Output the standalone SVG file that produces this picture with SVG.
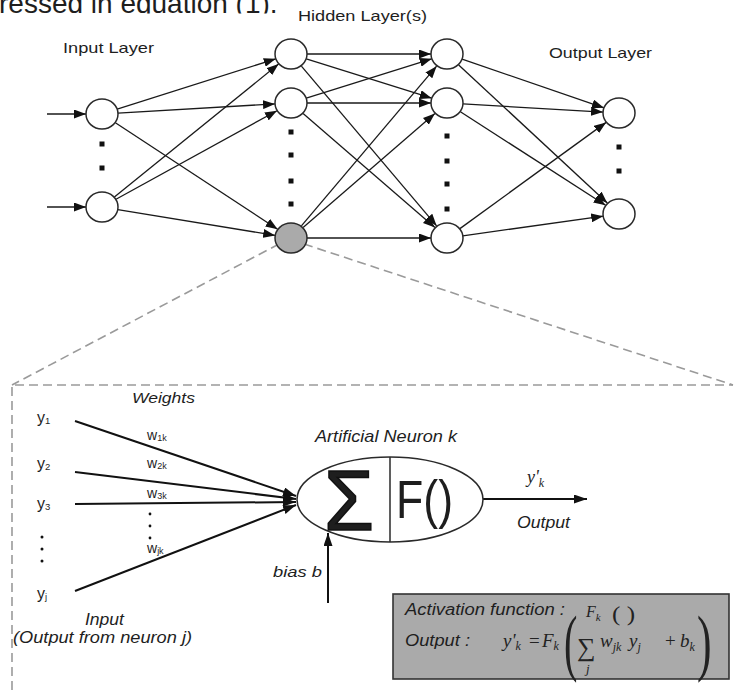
<svg xmlns="http://www.w3.org/2000/svg" width="734" height="690" viewBox="0 0 734 690">
<defs>
<style>
.node{fill:#fff;stroke:#2a2a2a;stroke-width:1.5}
.hl{fill:#aaaaaa}
.edge{stroke:#1a1a1a;stroke-width:1.3;fill:none;marker-end:url(#ah)}
.thick{stroke:#111;stroke-width:2;fill:none;marker-end:url(#ah2)}
.dash{stroke:#9a9a9a;stroke-width:1.6;fill:none;stroke-dasharray:9 5}
.dot{fill:#111}
.t{font-family:"Liberation Sans",Arial,sans-serif;fill:#1e1e1e}
.i{font-style:italic}
.m{font-family:"Liberation Serif","Times New Roman",serif;font-style:italic;fill:#222}
.r{font-family:"Liberation Serif","Times New Roman",serif;fill:#222}
</style>
<marker id="ah" viewBox="0 0 12 9" refX="12" refY="4.5" markerWidth="12" markerHeight="9" markerUnits="userSpaceOnUse" orient="auto"><path d="M0,0 L12,4.5 L0,9 z" fill="#111"/></marker>
<marker id="ah2" viewBox="0 0 13 9" refX="13" refY="4.5" markerWidth="13" markerHeight="9" markerUnits="userSpaceOnUse" orient="auto"><path d="M0,0 L13,4.5 L0,9 z" fill="#111"/></marker>
<clipPath id="topclip"><rect x="0" y="0" width="734" height="13.5"/></clipPath>
</defs>
<rect width="734" height="690" fill="#fff"/>

<text class="t" x="-1" y="13" font-size="28" clip-path="url(#topclip)" fill="#111">ressed in equation (1).</text>

<g id="labels">
<text class="t" x="63" y="53" font-size="14.5" textLength="91" lengthAdjust="spacingAndGlyphs">Input Layer</text>
<text class="t" x="298" y="20.5" font-size="14.5" textLength="129" lengthAdjust="spacingAndGlyphs">Hidden Layer(s)</text>
<text class="t" x="549" y="58" font-size="15" textLength="103" lengthAdjust="spacingAndGlyphs">Output Layer</text>
</g>

<g id="connectors">
<line class="edge" x1="47" y1="114" x2="86" y2="114"/>
<line class="edge" x1="47" y1="207" x2="86" y2="207"/>
<line class="edge" x1="117.2" y1="109.2" x2="275.8" y2="58.8"/>
<line class="edge" x1="118" y1="113.1" x2="275" y2="103.9"/>
<line class="edge" x1="115.4" y1="122.8" x2="277.6" y2="229.2"/>
<line class="edge" x1="114.4" y1="196.9" x2="278.6" y2="64.1"/>
<line class="edge" x1="116" y1="199.3" x2="277" y2="110.7"/>
<line class="edge" x1="117.8" y1="209.6" x2="275.2" y2="235.4"/>
<line class="edge" x1="307" y1="54" x2="431" y2="54"/>
<line class="edge" x1="306.3" y1="58.8" x2="431.7" y2="98.2"/>
<line class="edge" x1="301.4" y1="66.2" x2="436.6" y2="225.8"/>
<line class="edge" x1="306.3" y1="98.2" x2="431.7" y2="58.8"/>
<line class="edge" x1="307" y1="103" x2="431" y2="103"/>
<line class="edge" x1="303.1" y1="113.5" x2="434.9" y2="227.5"/>
<line class="edge" x1="301.4" y1="225.8" x2="436.6" y2="66.2"/>
<line class="edge" x1="303.1" y1="227.5" x2="434.9" y2="113.5"/>
<line class="edge" x1="307" y1="238" x2="431" y2="238"/>
<line class="edge" x1="462.1" y1="59.2" x2="603.9" y2="107.8"/>
<line class="edge" x1="458.7" y1="64.9" x2="607.3" y2="203.1"/>
<line class="edge" x1="463" y1="103.9" x2="603" y2="112.1"/>
<line class="edge" x1="460.4" y1="111.7" x2="605.6" y2="205.3"/>
<line class="edge" x1="459.9" y1="228.6" x2="606.1" y2="122.4"/>
<line class="edge" x1="462.8" y1="235.8" x2="603.2" y2="216.2"/>
<line class="dash" x1="279" y1="244" x2="12" y2="385"/>
<line class="dash" x1="304" y1="244" x2="733" y2="385"/>
<path class="dash" d="M12,690 V385 H733"/>
<line class="thick" x1="75" y1="421" x2="296" y2="496"/>
<line class="thick" x1="75" y1="472" x2="296" y2="499"/>
<line class="thick" x1="75" y1="504" x2="296" y2="502"/>
<line class="thick" x1="75" y1="591" x2="296" y2="505"/>
<line class="thick" x1="483" y1="499" x2="587" y2="499"/>
<line class="thick" x1="328" y1="603" x2="328" y2="533"/>
</g>

<g id="in1"><ellipse class="node" cx="102" cy="114" rx="16" ry="15"/></g>
<g id="in2"><ellipse class="node" cx="102" cy="207" rx="16" ry="15"/></g>
<g id="h1"><ellipse class="node" cx="291" cy="54" rx="16" ry="15"/></g>
<g id="h2"><ellipse class="node" cx="291" cy="103" rx="16" ry="15"/></g>
<g id="h3"><ellipse class="node hl" cx="291" cy="238" rx="16" ry="15"/></g>
<g id="l1"><ellipse class="node" cx="447" cy="54" rx="16" ry="15"/></g>
<g id="l2"><ellipse class="node" cx="447" cy="103" rx="16" ry="15"/></g>
<g id="l3"><ellipse class="node" cx="447" cy="238" rx="16" ry="15"/></g>
<g id="o1"><ellipse class="node" cx="619" cy="113" rx="16" ry="15"/></g>
<g id="o2"><ellipse class="node" cx="619" cy="214" rx="16" ry="15"/></g>

<g id="dots">
<rect class="dot" x="99.5" y="141.5" width="5" height="5"/>
<rect class="dot" x="99.5" y="165.5" width="5" height="5"/>
<rect class="dot" x="288.5" y="129.5" width="5" height="5"/>
<rect class="dot" x="288.5" y="152.5" width="5" height="5"/>
<rect class="dot" x="288.5" y="178.5" width="5" height="5"/>
<rect class="dot" x="288.5" y="201.5" width="5" height="5"/>
<rect class="dot" x="444.5" y="133.5" width="5" height="5"/>
<rect class="dot" x="444.5" y="158.5" width="5" height="5"/>
<rect class="dot" x="444.5" y="181.5" width="5" height="5"/>
<rect class="dot" x="444.5" y="206.5" width="5" height="5"/>
<rect class="dot" x="616.5" y="144.5" width="5" height="5"/>
<rect class="dot" x="616.5" y="168.5" width="5" height="5"/>
</g>

<g id="inputs">
<text class="t i" x="132" y="403" font-size="15.5" textLength="63" lengthAdjust="spacingAndGlyphs">Weights</text>
<text class="t" x="37" y="423" font-size="16">y<tspan font-size="9.5" dy="1">1</tspan></text>
<text class="t" x="37" y="469" font-size="16">y<tspan font-size="9.5" dy="1">2</tspan></text>
<text class="t" x="37" y="509" font-size="16">y<tspan font-size="9.5" dy="1">3</tspan></text>
<circle class="dot" cx="42" cy="537" r="1.5"/>
<circle class="dot" cx="42" cy="549" r="1.5"/>
<circle class="dot" cx="42" cy="561" r="1.5"/>
<text class="t" x="37" y="599" font-size="16">y<tspan font-size="9.5" dy="1">j</tspan></text>
<text class="t" x="147" y="440" font-size="14">w<tspan font-size="9" dy="1">1k</tspan></text>
<text class="t" x="147" y="468" font-size="14">w<tspan font-size="9" dy="1">2k</tspan></text>
<text class="t" x="147" y="498" font-size="14">w<tspan font-size="9" dy="1">3k</tspan></text>
<circle class="dot" cx="150" cy="514" r="1.4"/>
<circle class="dot" cx="150" cy="526" r="1.4"/>
<circle class="dot" cx="150" cy="538" r="1.4"/>
<text class="t" x="147" y="553" font-size="14">w<tspan font-size="9" dy="1">jk</tspan></text>
<text class="t i" x="85" y="625" font-size="16" textLength="39" lengthAdjust="spacingAndGlyphs">Input</text>
<text class="t i" x="13" y="643" font-size="16" textLength="179" lengthAdjust="spacingAndGlyphs">(Output from neuron j)</text>
</g>

<g id="neuron">
<text class="t i" x="315" y="442" font-size="16.5" textLength="142" lengthAdjust="spacingAndGlyphs">Artificial Neuron k</text>
<ellipse cx="390" cy="499.5" rx="93" ry="42.5" fill="#fff" stroke="#2a2a2a" stroke-width="1.5"/>
<line x1="390" y1="457" x2="390" y2="542" stroke="#2a2a2a" stroke-width="1.5"/>
<text class="t" x="324" y="530" font-size="86" textLength="50" lengthAdjust="spacingAndGlyphs" fill="#111" stroke="#111" stroke-width="1.6">Σ</text>
<text class="t" x="396" y="518" font-size="53" textLength="57" lengthAdjust="spacingAndGlyphs" fill="#111">F()</text>
<text class="m" x="527" y="483" font-size="18">y'<tspan font-size="12" dy="4">k</tspan></text>
<text class="t i" x="517" y="528" font-size="16" textLength="53" lengthAdjust="spacingAndGlyphs">Output</text>
<text class="t i" x="273" y="577" font-size="15.5" textLength="49" lengthAdjust="spacingAndGlyphs">bias b</text>
</g>

<g id="formula">
<rect x="393" y="594" width="336" height="85" fill="#aaaaaa" stroke="#333" stroke-width="1.6"/>
<text class="t i" x="405" y="615" font-size="16" textLength="160" lengthAdjust="spacingAndGlyphs">Activation function :</text>
<text class="m" x="586" y="617" font-size="16">F<tspan font-size="11" dy="4">k</tspan></text>
<text class="r" x="612" y="621" font-size="21" fill="#555" textLength="23" lengthAdjust="spacingAndGlyphs">( )</text>
<text class="t i" x="405" y="646" font-size="16" textLength="65" lengthAdjust="spacingAndGlyphs">Output :</text>
<text class="m" x="503" y="647" font-size="19">y'<tspan font-size="12" dy="3">k</tspan></text>
<text class="r" x="529" y="647" font-size="19">=</text>
<text class="m" x="542" y="647" font-size="19">F<tspan font-size="12" dy="3">k</tspan></text>
<text class="r" x="0" y="0" font-size="73" transform="translate(564,667) scale(0.55,1)">(</text>
<text class="r" x="577" y="656" font-size="26">∑</text>
<text class="m" x="586" y="673" font-size="13">j</text>
<text class="m" x="600" y="647" font-size="19">w<tspan font-size="12" dy="4">jk</tspan></text>
<text class="m" x="629" y="647" font-size="19">y<tspan font-size="12" dy="4">j</tspan></text>
<text class="r" x="665" y="647" font-size="19">+</text>
<text class="m" x="680" y="647" font-size="19">b<tspan font-size="12" dy="4">k</tspan></text>
<text class="r" x="0" y="0" font-size="73" transform="translate(697,667) scale(0.6,1)">)</text>
</g>
</svg>
